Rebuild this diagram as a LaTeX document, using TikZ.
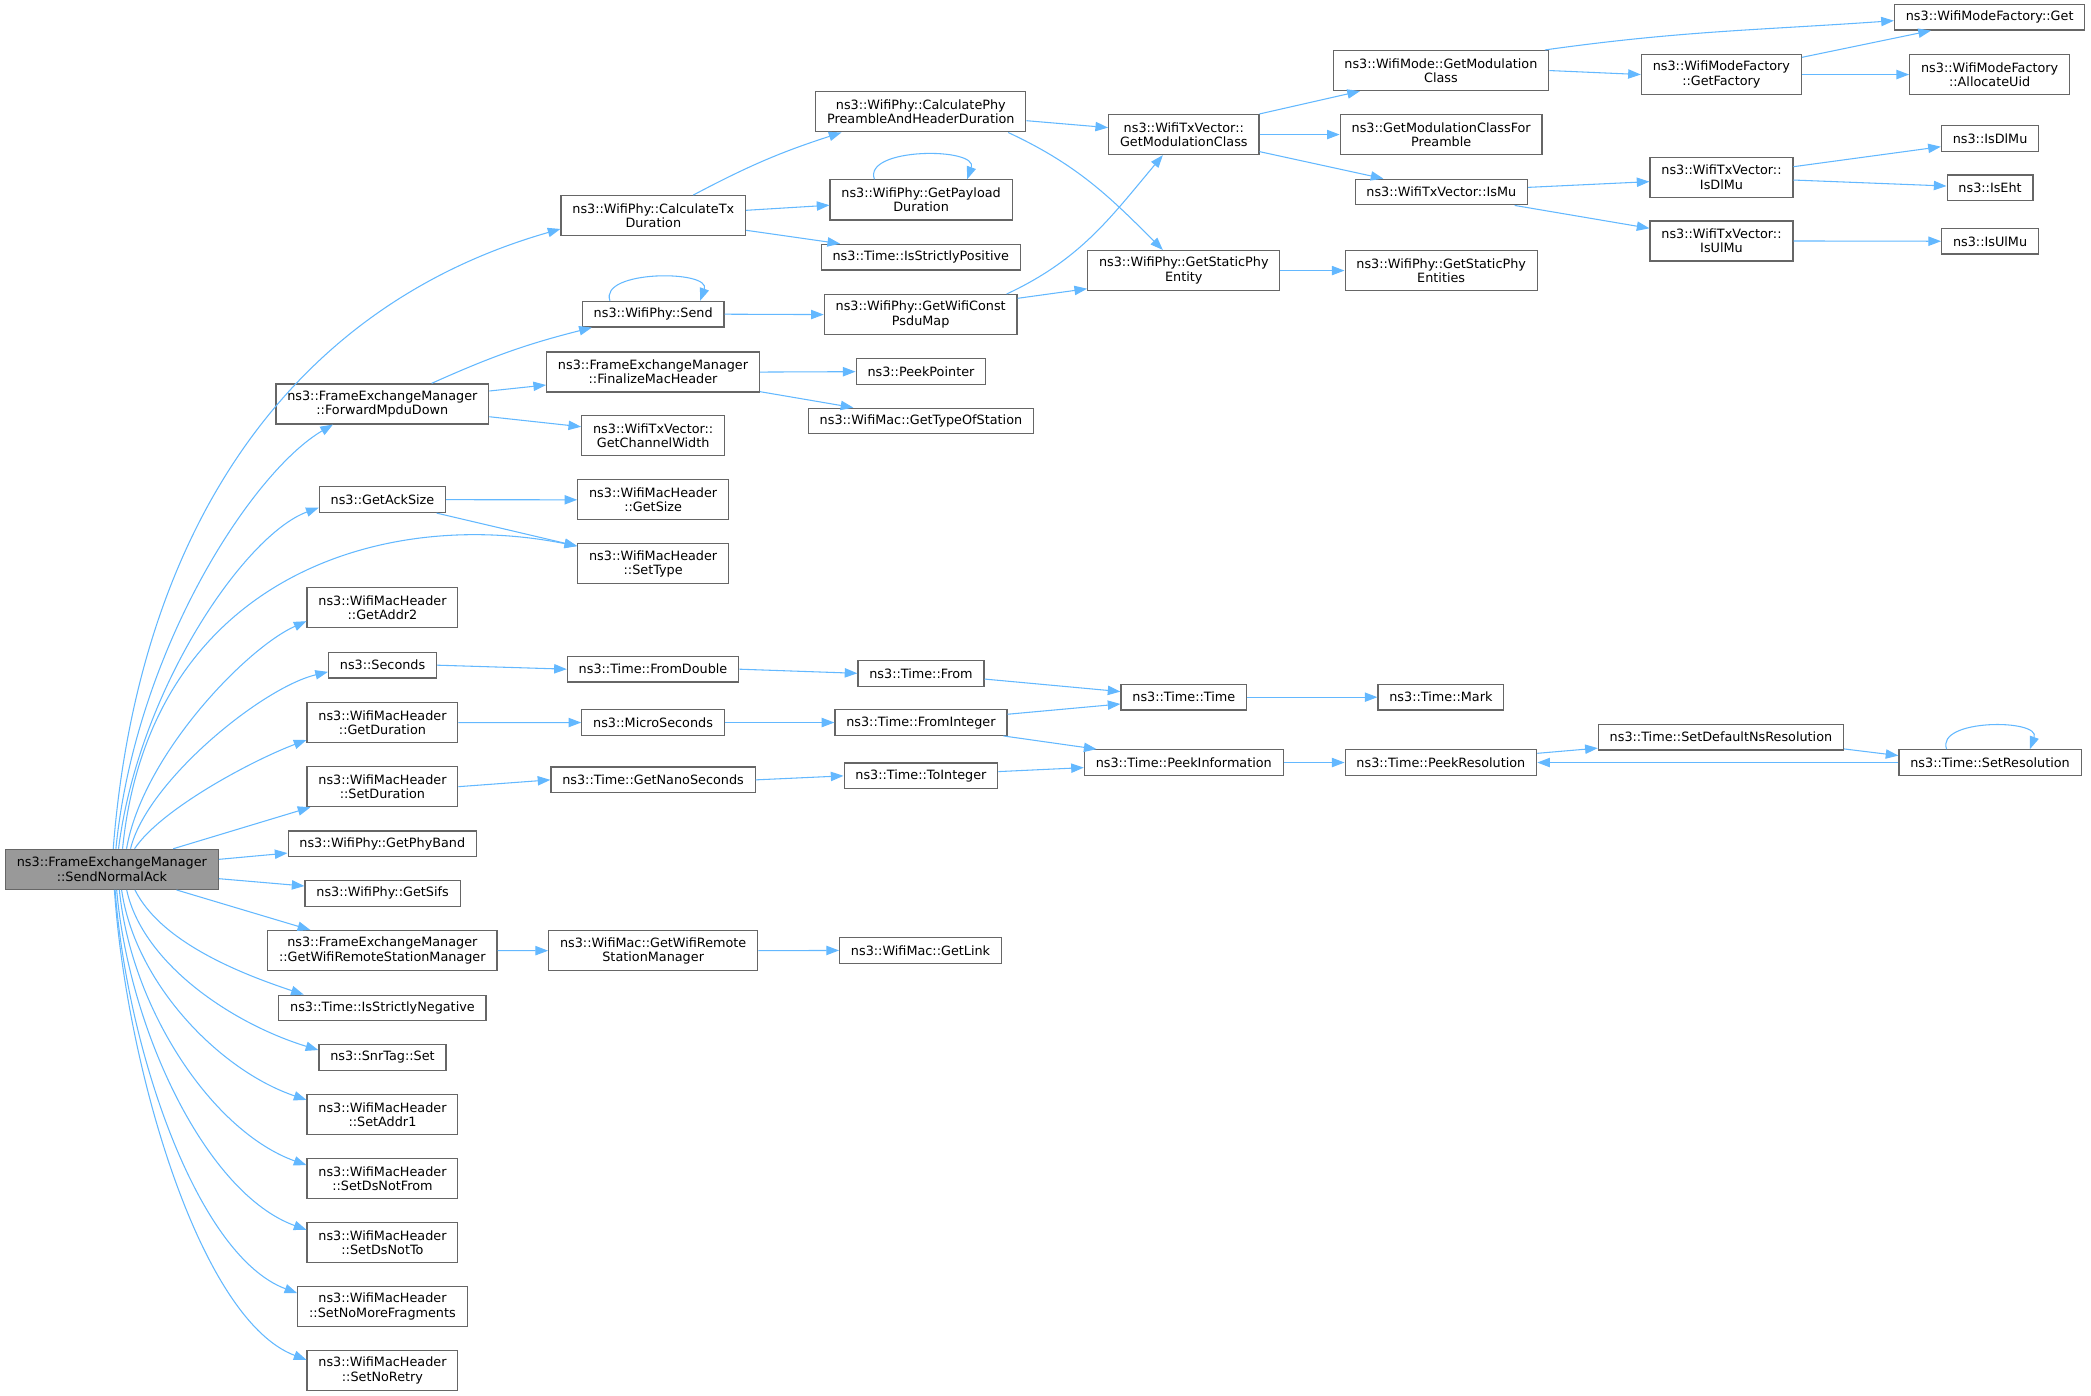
\documentclass[tikz,border=0pt]{standalone}
\usepackage{fontspec}
\setmainfont{DejaVu Sans}
\usetikzlibrary{arrows.meta}
\definecolor{callblue}{HTML}{63B8FF}
\definecolor{boxline}{HTML}{666666}
\definecolor{rootfill}{HTML}{999999}
\begin{document}
\begin{tikzpicture}[x=1pt,y=1pt,
		fnbox/.style={draw=boxline,fill=white,line width=0.9pt,align=center,inner xsep=8.5pt,inner ysep=2pt,minimum height=19.2pt,font=\fontsize{9.6}{10.7}\selectfont},
		twoline/.style={fnbox,minimum height=30pt},
		rootbox/.style={twoline,fill=rootfill},
		callarr/.style={draw=callblue,line width=0.8pt,-{Triangle[length=9.5pt,width=7pt]}}]
	\useasboundingbox (0,0) rectangle (1568,-1046.8);
	\node[rootbox] (root) at (83.9,-651.9) {ns3::FrameExchangeManager\\::SendNormalAck};
	\node[twoline] (calcTx) at (489.9,-161.7) {ns3::WifiPhy::CalculateTx\\Duration};
	\node[twoline] (fwd) at (286.7,-302.9) {ns3::FrameExchangeManager\\::ForwardMpduDown};
	\node[fnbox] (ackSize) at (286.8,-374.7) {ns3::GetAckSize};
	\node[twoline] (addr2) at (286.8,-455.8) {ns3::WifiMacHeader\\::GetAddr2};
	\node[fnbox] (seconds) at (286.9,-498.8) {ns3::Seconds};
	\node[twoline] (getDur) at (286.8,-541.9) {ns3::WifiMacHeader\\::GetDuration};
	\node[twoline] (setDur) at (286.8,-589.9) {ns3::WifiMacHeader\\::SetDuration};
	\node[fnbox] (phyBand) at (286.7,-632.7) {ns3::WifiPhy::GetPhyBand};
	\node[fnbox] (sifs) at (286.9,-669.9) {ns3::WifiPhy::GetSifs};
	\node[twoline] (getRsm) at (286.7,-712.8) {ns3::FrameExchangeManager\\::GetWifiRemoteStationManager};
	\node[fnbox] (strictNeg) at (286.8,-755.9) {ns3::Time::IsStrictlyNegative};
	\node[fnbox] (snrSet) at (286.8,-792.9) {ns3::SnrTag::Set};
	\node[twoline] (setAddr1) at (286.8,-835.8) {ns3::WifiMacHeader\\::SetAddr1};
	\node[twoline] (dsNotFrom) at (286.8,-883.7) {ns3::WifiMacHeader\\::SetDsNotFrom};
	\node[twoline] (dsNotTo) at (286.8,-931.7) {ns3::WifiMacHeader\\::SetDsNotTo};
	\node[twoline] (noMoreFrag) at (286.8,-979.7) {ns3::WifiMacHeader\\::SetNoMoreFragments};
	\node[twoline] (noRetry) at (286.8,-1027.7) {ns3::WifiMacHeader\\::SetNoRetry};

	\node[fnbox] (phySend) at (489.8,-235.6) {ns3::WifiPhy::Send};
	\node[twoline] (finalize) at (489.7,-279) {ns3::FrameExchangeManager\\::FinalizeMacHeader};
	\node[twoline] (chanWidth) at (489.8,-326.5) {ns3::WifiTxVector::\\GetChannelWidth};
	\node[twoline] (getSize) at (489.8,-374.8) {ns3::WifiMacHeader\\::GetSize};
	\node[twoline] (setType) at (489.8,-422.8) {ns3::WifiMacHeader\\::SetType};
	\node[fnbox] (fromDouble) at (489.7,-501.8) {ns3::Time::FromDouble};
	\node[fnbox] (micro) at (489.7,-541.8) {ns3::MicroSeconds};
	\node[fnbox] (nanoSec) at (489.7,-584.8) {ns3::Time::GetNanoSeconds};
	\node[twoline] (macRsm) at (489.8,-712.9) {ns3::WifiMac::GetWifiRemote\\StationManager};

	\node[twoline] (preamble) at (690.5,-83.9) {ns3::WifiPhy::CalculatePhy\\PreambleAndHeaderDuration};
	\node[twoline] (payload) at (690.7,-149.9) {ns3::WifiPhy::GetPayload\\Duration};
	\node[fnbox] (strictPos) at (690.5,-192.8) {ns3::Time::IsStrictlyPositive};
	\node[twoline] (psduMap) at (690.4,-235.9) {ns3::WifiPhy::GetWifiConst\\PsduMap};
	\node[fnbox] (peekPtr) at (690.6,-278.7) {ns3::PeekPointer};
	\node[fnbox] (typeOfSta) at (690.6,-315.7) {ns3::WifiMac::GetTypeOfStation};
	\node[fnbox] (timeFrom) at (690.6,-504.9) {ns3::Time::From};
	\node[fnbox] (fromInt) at (690.6,-541.8) {ns3::Time::FromInteger};
	\node[fnbox] (toInt) at (690.6,-581.8) {ns3::Time::ToInteger};
	\node[fnbox] (getLink) at (690.3,-712.7) {ns3::WifiMac::GetLink};

	\node[twoline] (txModClass) at (887.7,-100.9) {ns3::WifiTxVector::\\GetModulationClass};
	\node[twoline] (staticEntity) at (887.7,-202.9) {ns3::WifiPhy::GetStaticPhy\\Entity};
	\node[fnbox] (timeTime) at (887.7,-522.8) {ns3::Time::Time};
	\node[fnbox] (peekInfo) at (887.7,-571.8) {ns3::Time::PeekInformation};

	\node[twoline] (modeModClass) at (1080.5,-52.9) {ns3::WifiMode::GetModulation\\Class};
	\node[twoline] (modClassPre) at (1080.7,-100.9) {ns3::GetModulationClassFor\\Preamble};
	\node[fnbox] (isMu) at (1080.8,-144) {ns3::WifiTxVector::IsMu};
	\node[twoline] (staticEntities) at (1080.7,-202.9) {ns3::WifiPhy::GetStaticPhy\\Entities};
	\node[fnbox] (timeMark) at (1080.5,-522.8) {ns3::Time::Mark};
	\node[fnbox] (peekRes) at (1080.5,-571.8) {ns3::Time::PeekResolution};

	\node[twoline] (getFactory) at (1290.8,-55.9) {ns3::WifiModeFactory\\::GetFactory};
	\node[twoline] (txIsDlMu) at (1290.9,-132.9) {ns3::WifiTxVector::\\IsDlMu};
	\node[twoline] (txIsUlMu) at (1290.9,-180.7) {ns3::WifiTxVector::\\IsUlMu};
	\node[fnbox] (setDefNs) at (1290.5,-552.8) {ns3::Time::SetDefaultNsResolution};

	\node[fnbox] (factGet) at (1492,-12.9) {ns3::WifiModeFactory::Get};
	\node[twoline] (allocUid) at (1492,-55.9) {ns3::WifiModeFactory\\::AllocateUid};
	\node[fnbox] (isDlMu) at (1492.3,-103.9) {ns3::IsDlMu};
	\node[fnbox] (isEht) at (1492.3,-140.9) {ns3::IsEht};
	\node[fnbox] (isUlMu) at (1492.3,-180.9) {ns3::IsUlMu};
	\node[fnbox] (setRes) at (1492.3,-571.8) {ns3::Time::SetResolution};

	% calls made by SendNormalAck
	\draw[callarr] ([xshift=1pt]root.north) .. controls +(18,230) and +(-210,-60) .. ([yshift=-10pt]calcTx.west);
	\draw[callarr] ([xshift=3pt]root.north) .. controls +(15,150) and +(-60,-35) .. ([xshift=-37pt]fwd.south);
	\draw[callarr] ([xshift=5pt]root.north) .. controls +(15,120) and +(-55,-20) .. ([yshift=-6pt]ackSize.west);
	\draw[callarr] ([xshift=8pt]root.north) .. controls +(20,200) and +(-150,30) .. ([yshift=13.3pt]setType.west);
	\draw[callarr] ([xshift=11pt]root.north) .. controls +(12,70) and +(-45,-20) .. ([yshift=-10pt]addr2.west);
	\draw[callarr] ([xshift=14pt]root.north) .. controls +(12,50) and +(-50,-12) .. ([yshift=-5pt]seconds.west);
	\draw[callarr] ([xshift=17pt]root.north) .. controls +(20,30) and +(-40,-15) .. ([yshift=-13pt]getDur.west);
	\draw[callarr] ([xshift=46pt]root.north) -- ([xshift=-54pt]setDur.south);
	\draw[callarr] ([yshift=7.5pt]root.east) -- ([yshift=-7pt]phyBand.west);
	\draw[callarr] ([yshift=-7pt]root.east) -- ([yshift=5.5pt]sifs.west);
	\draw[callarr] ([xshift=48.5pt]root.south) -- ([xshift=-54pt]getRsm.north);
	\draw[callarr] ([xshift=17.3pt]root.south) .. controls +(20,-40) and +(-45,15) .. ([xshift=-59pt]strictNeg.north);
	\draw[callarr] ([xshift=11.1pt]root.south) .. controls +(12,-55) and +(-65,20) .. ([yshift=5.5pt]snrSet.west);
	\draw[callarr] ([xshift=7.3pt]root.south) .. controls +(10,-70) and +(-65,22) .. ([yshift=11pt]setAddr1.west);
	\draw[callarr] ([xshift=5.6pt]root.south) .. controls +(9,-90) and +(-70,25) .. ([yshift=10pt]dsNotFrom.west);
	\draw[callarr] ([xshift=3.6pt]root.south) .. controls +(9,-105) and +(-75,27) .. ([yshift=9.5pt]dsNotTo.west);
	\draw[callarr] ([xshift=2.4pt]root.south) .. controls +(9,-120) and +(-75,28) .. ([yshift=10pt]noMoreFrag.west);
	\draw[callarr] ([xshift=1.9pt]root.south) .. controls +(9,-133) and +(-80,30) .. ([yshift=8pt]noRetry.west);

	\draw[callarr] ([xshift=30pt]calcTx.north) to[bend left=5] ([xshift=-59.5pt]preamble.south);
	\draw[callarr] ([yshift=4pt]calcTx.east) -- ([yshift=-4pt]payload.west);
	\draw[callarr] ([yshift=-11pt]calcTx.east) -- ([xshift=-60.5pt]strictPos.north);
	\draw[callarr] ([xshift=-35pt]payload.north) to[out=110,in=70,looseness=0.95] ([xshift=34.5pt]payload.north);
	\draw[callarr] ([xshift=37pt]fwd.north) to[bend left=5] ([xshift=-46pt]phySend.south);
	\draw[callarr] ([yshift=9.7pt]fwd.east) -- ([yshift=-9.7pt]finalize.west);
	\draw[callarr] ([yshift=-9.6pt]fwd.east) -- ([yshift=6.5pt]chanWidth.west);
	\draw[callarr] ([xshift=-32.4pt]phySend.north) to[out=110,in=70,looseness=0.94] ([xshift=35.2pt]phySend.north);
	\draw[callarr] (phySend.east) -- (psduMap.west);
	\draw[callarr] (finalize.east) -- (peekPtr.west);
	\draw[callarr] ([yshift=-14.7pt]finalize.east) -- ([xshift=-50.7pt]typeOfSta.north);
	\draw[callarr] ([yshift=-6.6pt]preamble.east) -- ([yshift=5.2pt]txModClass.west);
	\draw[callarr] ([xshift=65.5pt]preamble.south) to[out=-25,in=135] ([xshift=-15.7pt]staticEntity.north);
	\draw[callarr] ([xshift=64.5pt]psduMap.north) to[out=25,in=-130] ([xshift=-15.7pt]txModClass.south);
	\draw[callarr] ([yshift=12.2pt]psduMap.east) -- ([yshift=-13.6pt]staticEntity.west);
	\draw[callarr] (txModClass.north east) -- ([xshift=-60.7pt]modeModClass.south);
	\draw[callarr] (txModClass.east) -- (modClassPre.west);
	\draw[callarr] ([yshift=-12.8pt]txModClass.east) -- ([xshift=-43.4pt]isMu.north);
	\draw[callarr] ([xshift=78pt]modeModClass.north) to[out=8,in=-176] ([yshift=-2.6pt]factGet.west);
	\draw[callarr] (modeModClass.east) -- (getFactory.west);
	\draw[callarr] ([yshift=12.9pt]getFactory.east) -- ([xshift=-44pt]factGet.south);
	\draw[callarr] (getFactory.east) -- (allocUid.west);
	\draw[callarr] ([yshift=3.5pt]isMu.east) -- ([yshift=-3.3pt]txIsDlMu.west);
	\draw[callarr] ([xshift=55pt]isMu.south) -- ([yshift=9.5pt]txIsUlMu.west);
	\draw[callarr] ([yshift=7.9pt]txIsDlMu.east) -- ([yshift=-6.1pt]isDlMu.west);
	\draw[callarr] ([yshift=-2.1pt]txIsDlMu.east) -- ([yshift=1.4pt]isEht.west);
	\draw[callarr] (txIsUlMu.east) -- (isUlMu.west);
	\draw[callarr] (staticEntity.east) -- (staticEntities.west);

	\draw[callarr] (ackSize.east) -- (getSize.west);
	\draw[callarr] ([xshift=40.6pt]ackSize.south) -- ([yshift=13.3pt]setType.west);
	\draw[callarr] (seconds.east) -- (fromDouble.west);
	\draw[callarr] (fromDouble.east) -- (timeFrom.west);
	\draw[callarr] ([yshift=-4.3pt]timeFrom.east) -- ([yshift=4.2pt]timeTime.west);
	\draw[callarr] (getDur.east) -- (micro.west);
	\draw[callarr] (micro.east) -- (fromInt.west);
	\draw[callarr] ([yshift=6.2pt]fromInt.east) -- ([yshift=-5.1pt]timeTime.west);
	\draw[callarr] ([xshift=61.8pt]fromInt.south) -- ([xshift=-65.4pt]peekInfo.north);
	\draw[callarr] (setDur.east) -- (nanoSec.west);
	\draw[callarr] (nanoSec.east) -- (toInt.west);
	\draw[callarr] ([yshift=3.2pt]toInt.east) -- ([yshift=-3.8pt]peekInfo.west);
	\draw[callarr] (timeTime.east) -- (timeMark.west);
	\draw[callarr] (peekInfo.east) -- (peekRes.west);
	\draw[callarr] ([yshift=6.9pt]peekRes.east) -- ([yshift=-8.2pt]setDefNs.west);
	\draw[callarr] ([yshift=-8.8pt]setDefNs.east) -- ([yshift=5.2pt]setRes.west);
	\draw[callarr] (setRes.west) -- (peekRes.east);
	\draw[callarr] ([xshift=-32.6pt]setRes.north) to[out=110,in=70,looseness=1] ([xshift=29.9pt]setRes.north);
	\draw[callarr] (getRsm.east) -- (macRsm.west);
	\draw[callarr] (macRsm.east) -- (getLink.west);
\end{tikzpicture}
\end{document}
